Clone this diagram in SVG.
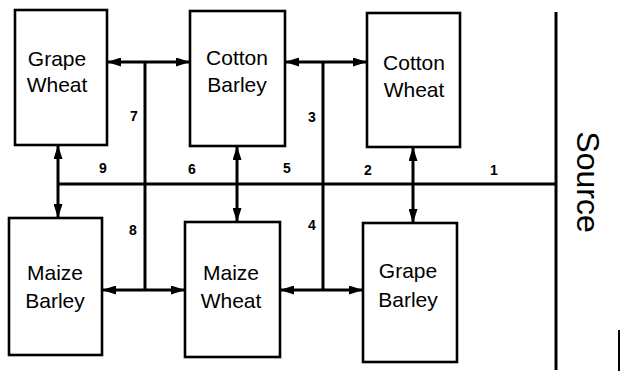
<svg xmlns="http://www.w3.org/2000/svg" width="620" height="371" viewBox="0 0 620 371">
<style>
.box{fill:#fff;stroke:#000;stroke-width:2.6}
.lbl{font-family:"Liberation Sans",Arial,sans-serif;font-size:21px;fill:#000;text-anchor:middle}
.num{font-family:"Liberation Sans",Arial,sans-serif;font-size:14px;font-weight:bold;fill:#000;text-anchor:middle}
.ln{stroke:#000;stroke-width:3;fill:none}
.arr{stroke:#000;stroke-width:3;fill:none;marker-start:url(#ah);marker-end:url(#ah)}
</style>
<defs>
<marker id="ah" viewBox="0 0 14 9" refX="14" refY="4.5" markerWidth="14" markerHeight="9" markerUnits="userSpaceOnUse" orient="auto-start-reverse">
<path d="M0,0 L14,4.5 L0,9 z" fill="#000"/>
</marker>
</defs>
<rect width="620" height="371" fill="#fff"/>
<g id="grape-wheat"><rect class="box" x="15" y="10" width="92" height="135"/><text class="lbl" x="57" y="66">Grape</text><text class="lbl" x="57" y="92">Wheat</text></g>
<g id="cotton-barley"><rect class="box" x="190" y="11" width="95" height="135"/><text class="lbl" x="237" y="65">Cotton</text><text class="lbl" x="237" y="92">Barley</text></g>
<g id="cotton-wheat"><rect class="box" x="367" y="13" width="93" height="134"/><text class="lbl" x="414" y="70">Cotton</text><text class="lbl" x="414" y="97">Wheat</text></g>
<g id="maize-barley"><rect class="box" x="9" y="218" width="93" height="137"/><text class="lbl" x="55" y="280">Maize</text><text class="lbl" x="55" y="308">Barley</text></g>
<g id="maize-wheat"><rect class="box" x="185" y="222" width="95" height="135"/><text class="lbl" x="231" y="280">Maize</text><text class="lbl" x="231" y="308">Wheat</text></g>
<g id="grape-barley"><rect class="box" x="363" y="223" width="94" height="139"/><text class="lbl" x="408" y="278">Grape</text><text class="lbl" x="408" y="307">Barley</text></g>
<g id="source"><line class="ln" x1="556" y1="12" x2="556" y2="370"/><text font-family="Liberation Sans,Arial,sans-serif" font-size="32" text-anchor="middle" transform="translate(577,182) rotate(90)">Source</text></g>
<g id="connectors">
<line class="ln" x1="58" y1="184" x2="556" y2="184"/>
<line class="arr" x1="58" y1="145" x2="58" y2="218"/>
<line class="arr" x1="237" y1="146" x2="237" y2="222"/>
<line class="arr" x1="413" y1="147" x2="413" y2="223"/>
<line class="arr" x1="107" y1="62" x2="190" y2="62"/>
<line class="arr" x1="285" y1="62" x2="367" y2="62"/>
<line class="arr" x1="102" y1="290" x2="185" y2="290"/>
<line class="arr" x1="280" y1="290" x2="363" y2="290"/>
<line class="ln" x1="145" y1="62" x2="145" y2="290"/>
<line class="ln" x1="323" y1="62" x2="323" y2="290"/>
</g>
<g id="numbers">
<text class="num" x="134" y="121">7</text>
<text class="num" x="103" y="173">9</text>
<text class="num" x="192" y="174">6</text>
<text class="num" x="287" y="173">5</text>
<text class="num" x="312" y="122">3</text>
<text class="num" x="368" y="175">2</text>
<text class="num" x="494" y="175">1</text>
<text class="num" x="133" y="235">8</text>
<text class="num" x="312" y="230">4</text>
</g>
<line x1="619" y1="330" x2="619" y2="371" stroke="#000" stroke-width="2"/>
</svg>
